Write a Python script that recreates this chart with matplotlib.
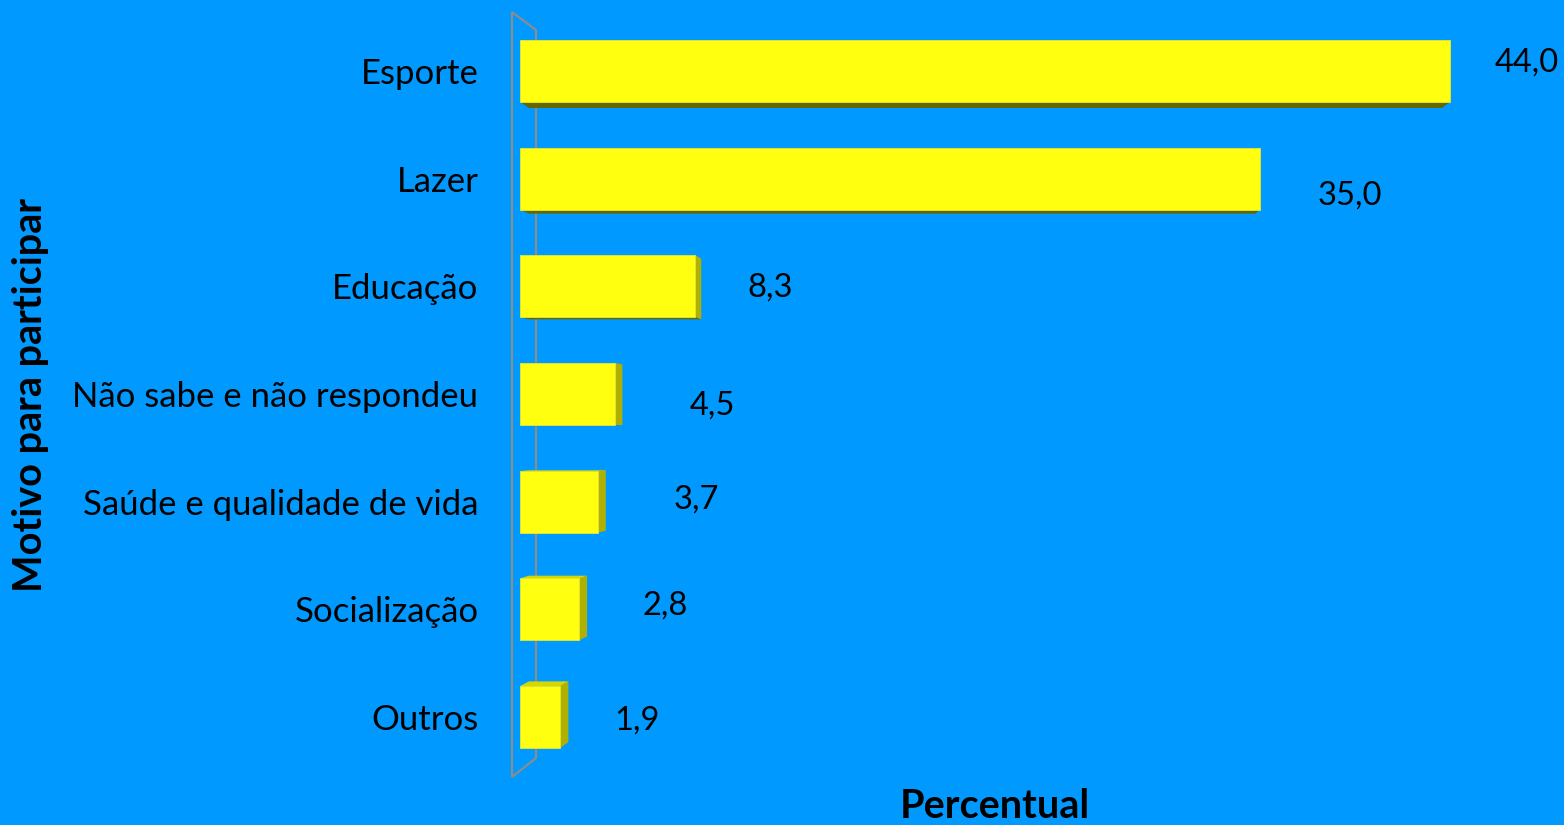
import matplotlib
matplotlib.use("Agg")
import matplotlib.pyplot as plt
from matplotlib.patches import Polygon

categories = ["Esporte", "Lazer", "Educação", "Não sabe e não respondeu",
              "Saúde e qualidade de vida", "Socialização", "Outros"]
values = [44.0, 35.0, 8.3, 4.5, 3.7, 2.8, 1.9]
value_labels = ["44,0", "35,0", "8,3", "4,5", "3,7", "2,8", "1,9"]
# label offsets (points) from bar end / centre
label_dx = [77, 90, 75, 97, 98, 86, 77]
label_dy = [8, -17, -1, -12, 2, 4, -4]

BG = "#0099FF"
FACE = "#FFFF0F"
TOP = "#D6D600"
SIDE = "#B0B000"
BOTTOM = "#666600"
FONT = "Lato"

W, H = 1564, 825
fig = plt.figure(figsize=(W / 100, H / 100), dpi=100, facecolor=BG)
L, R = 500, 1564
ax = fig.add_axes([L / W, 0, (R - L) / W, 1])
ax.set_facecolor(BG)
px = 930 / 44.0
ax.set_xlim((L - 520) / px, (R - 520) / px)
step = 107.67
ax.set_ylim((H - 71) / step, -71 / step)

bar_h = 0.575
k = 0.0183
vx = (1012 - 520) / px
vy = (430 - 71) / step

def proj(x, y):
    return (x + k * (vx - x), y + k * (vy - y))

for i, v in enumerate(values):
    x0, x1 = 0.0, v
    yt, yb = i - bar_h / 2, i + bar_h / 2
    btl, btr = proj(x0, yt), proj(x1, yt)
    bbl, bbr = proj(x0, yb), proj(x1, yb)
    if btr[0] > x1:
        ax.add_patch(Polygon([(x1, yt), btr, bbr, (x1, yb)], closed=True,
                             facecolor=SIDE, edgecolor="none", zorder=3))
    if btl[1] < yt:
        ax.add_patch(Polygon([(x0, yt), btl, btr, (x1, yt)], closed=True,
                             facecolor=TOP, edgecolor="none", zorder=3))
    if bbl[1] > yb:
        ax.add_patch(Polygon([(x0, yb), bbl, bbr, (x1, yb)], closed=True,
                             facecolor=BOTTOM, edgecolor="none", zorder=3))
ax.barh(range(len(values)), values, height=bar_h, color=FACE,
        edgecolor="#E8E830", linewidth=0.6, zorder=4)

# wall outline (3D back wall)
wall_px = [(512, 12), (536, 30), (536, 758), (512, 777)]
wall = [((x - 520) / px, (y - 71) / step) for x, y in wall_px]
ax.add_patch(Polygon(wall, closed=True, facecolor="none",
                     edgecolor="#8C8C8C", linewidth=1.6, zorder=2,
                     clip_on=False))

for i, (v, lab) in enumerate(zip(values, value_labels)):
    ax.annotate(lab, (v, i), xytext=(label_dx[i] * 0.72, label_dy[i] * 0.72),
                textcoords="offset points", ha="center", va="center",
                fontsize=23.5, family=FONT, color="black")

ax.set_yticks(range(len(categories)))
ax.set_yticklabels(categories, fontsize=25, family=FONT)
ax.tick_params(axis="y", length=0, pad=15.5)
ax.set_xticks([])
for s in ax.spines.values():
    s.set_visible(False)

fig.text(995 / W, 1 - 806 / H, "Percentual", ha="center", va="center",
         fontsize=28.5, fontweight="bold", family=FONT)
fig.text(31 / W, 1 - 395 / H, "Motivo para participar", ha="center",
         va="center", rotation=90, fontsize=28.5, fontweight="bold", family=FONT)

fig.savefig("out.png", dpi=100, facecolor=BG)
